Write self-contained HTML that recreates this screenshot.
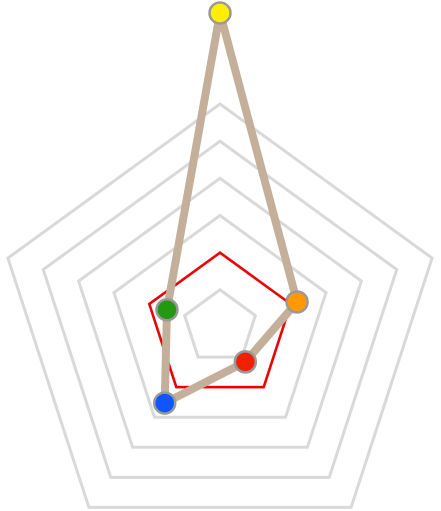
<!DOCTYPE html>
<html><head><meta charset="utf-8"><style>html,body{margin:0;padding:0;background:#fff;}svg{display:block;}</style></head>
<body>
<svg id="chart" width="441" height="511" viewBox="0 0 441 511" xmlns="http://www.w3.org/2000/svg"></svg>
<script>
const categories = ["A","B","C","D","E"];
const seriesValues = [8.45, 2.18, 1.16, 2.53, 1.5];
const thresholdValues = [2, 2, 2, 2, 2];
const gridLevels = [1, 2, 3, 4, 5, 6];
const colors = ["#ffee00", "#ff9900", "#ee2200", "#1155ff", "#229911"];

const NS = "http://www.w3.org/2000/svg";
const svg = document.getElementById("chart");
const cx = 220, cy = 327, maxVal = 6, maxR = 223;
function rScale(v){ return v / maxVal * maxR; }
function pt(i, v){
  const a = -Math.PI/2 + i * 2*Math.PI/categories.length;
  const r = rScale(v);
  return [cx + r*Math.cos(a), cy + r*Math.sin(a)];
}
function mk(tag, attrs){
  const e = document.createElementNS(NS, tag);
  for (const k in attrs) e.setAttribute(k, attrs[k]);
  svg.appendChild(e);
  return e;
}
gridLevels.forEach((lv) => {
  const p = categories.map((c,i)=>pt(i,lv).join(",")).join(" ");
  const g = mk("polygon", {points:p, fill:"none", stroke:"#d9d9d9", "stroke-width":3});
  
  
});
const th = mk("polygon", {points: thresholdValues.map((v,i)=>pt(i,v).join(",")).join(" "), fill:"none", stroke:"#ee0000", "stroke-width":2.5});


const sl = mk("polygon", {points: seriesValues.map((v,i)=>pt(i,v).join(",")).join(" "), fill:"none", stroke:"#c4b09a", "stroke-width":8, "stroke-linejoin":"round"});


seriesValues.forEach((v,i)=>{
  const [x,y] = pt(i,v);
  const c = mk("circle", {cx:x, cy:y, r:10.5, fill:colors[i], stroke:"#999999", "stroke-width":2.5});
  
  
});
</script>
</body></html>
